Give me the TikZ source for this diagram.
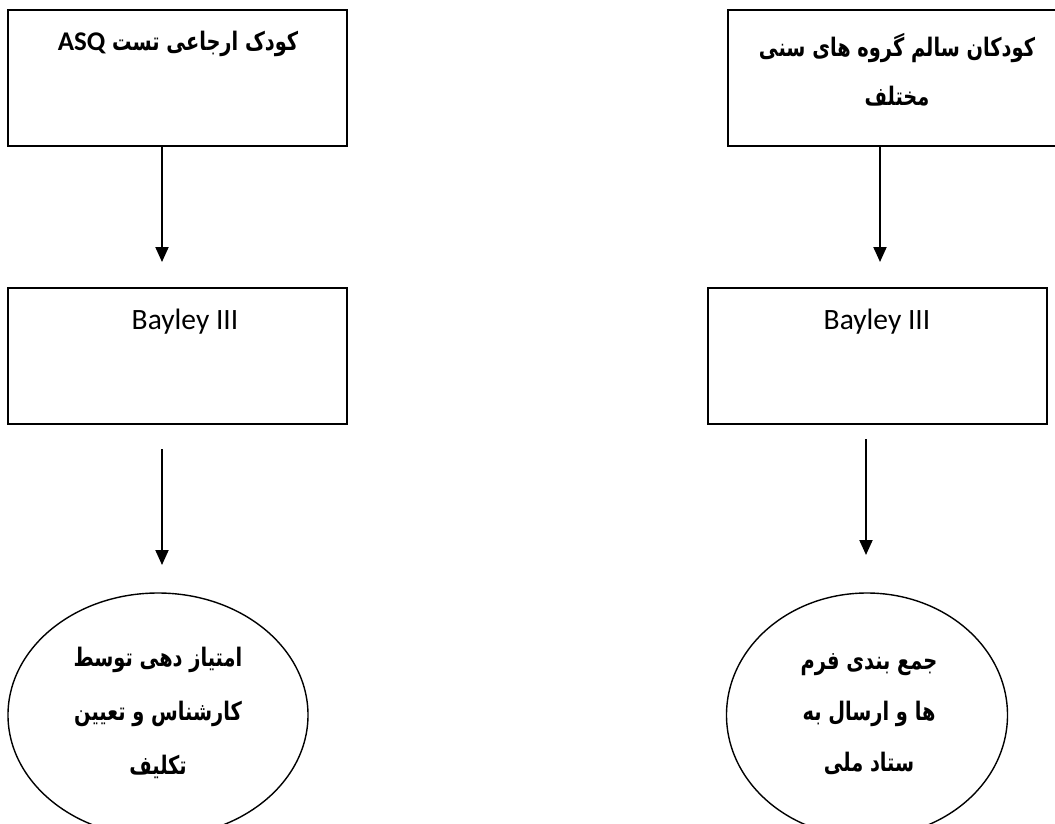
\documentclass[tikz,border=0pt]{standalone}
\usepackage{fontspec}
\usetikzlibrary{arrows.meta,shapes.geometric}
\TeXXeTstate=1
\newfontfamily\arabicfont[Script=Arabic,FakeStretch=0.76]{DejaVu Sans}
\newfontfamily\calibri{Carlito}
\begin{document}
\begin{tikzpicture}[x=1pt,y=-1pt,
  box/.style={draw, line width=2pt, minimum width=339pt, minimum height=136pt, inner sep=0pt},
  oval/.style={draw, ellipse, line width=1.4pt, inner sep=0pt},
  conn/.style={line width=2pt, -{Triangle[width=13pt,length=15pt]}},
  fa/.style={font=\arabicfont\bfseries\fontsize{25.5}{50}\selectfont, align=center, inner sep=0pt},
  la/.style={font=\calibri\fontsize{29.5}{32}\selectfont, inner sep=0pt}]
\useasboundingbox (0,0) rectangle (1055,823);
\clip (0,0) rectangle (1055,823);
% left column
\node[box] (b1) at (177.5,77.5) {};
\node[fa] (t1) at (178,44) {\beginR کودک ارجاعی تست \beginL{\calibri\bfseries\fontsize{27}{30}\selectfont ASQ}\endL\endR};
\node[box] (b2) at (177.5,356) {};
\node[la] (t2) at (185,322) {Bayley III};
\node[oval, minimum width=300pt, minimum height=244pt] (e1) at (158,715) {};
\node[fa, font=\arabicfont\bfseries\fontsize{25.5}{54}\selectfont] (t3) at (158,713) {\beginR امتیاز دهی توسط\endR\\\beginR کارشناس و تعیین\endR\\\beginR تکلیف\endR};
\coordinate (l1s) at (162,145);
\coordinate (l1e) at (162,262);
\coordinate (l2s) at (162,449);
\coordinate (l2e) at (162,565);
\draw[conn] (l1s) -- (l1e);
\draw[conn] (l2s) -- (l2e);
% right column
\node[box] (b3) at (897.5,77.5) {};
\node[fa, font=\arabicfont\bfseries\fontsize{25.5}{49}\selectfont] (t4) at (897,70) {\beginR کودکان سالم گروه های سنی\endR\\\beginR مختلف\endR};
\node[box] (b4) at (877.5,356) {};
\node[la] (t5) at (877,322) {Bayley III};
\node[oval, minimum width=281pt, minimum height=244pt] (e2) at (867,715) {};
\node[fa, font=\arabicfont\bfseries\fontsize{25.5}{51}\selectfont] (t6) at (869,714) {\beginR جمع بندی فرم\endR\\\beginR ها و ارسال به\endR\\\beginR ستاد ملی\endR};
\coordinate (r1s) at (880,147);
\coordinate (r1e) at (880,262);
\coordinate (r2s) at (866,439);
\coordinate (r2e) at (866,555);
\draw[conn] (r1s) -- (r1e);
\draw[conn] (r2s) -- (r2e);
\end{tikzpicture}
\end{document}
